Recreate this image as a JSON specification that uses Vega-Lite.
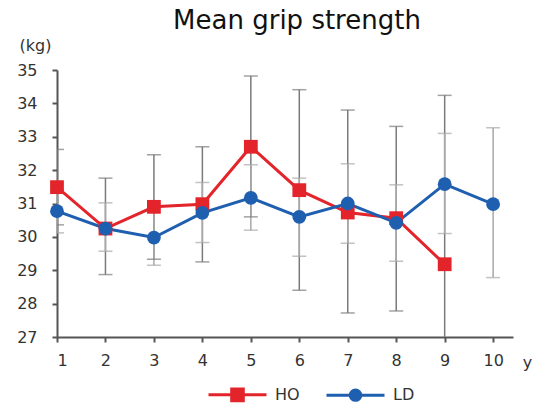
{
  "$schema": "https://vega.github.io/schema/vega-lite/v6.json",
  "autosize": "none",
  "width": 456,
  "height": 267,
  "padding": {"left": 57, "top": 70, "right": 34, "bottom": 67},
  "background": "white",
  "config": {
    "view": {"stroke": null},
    "font": "DejaVu Sans",
    "axis": {"labelFont": "DejaVu Sans", "titleFont": "DejaVu Sans", "labelColor": "#333", "titleColor": "#333", "grid": false, "domainColor": "#555", "tickColor": "#555", "domainWidth": 2, "tickWidth": 2, "labelOverlap": false}
  },
  "title": {"text": "Mean grip strength", "fontSize": 26, "fontWeight": "normal", "font": "DejaVu Sans", "color": "#111", "anchor": "middle", "frame": "group", "offset": 3, "dx": 12},
  "data": {"values": [
    {"x": 1, "group": "HO", "mean": 31.49, "lo": 30.36, "hi": 32.62},
    {"x": 2, "group": "HO", "mean": 30.25, "lo": 28.87, "hi": 31.76},
    {"x": 3, "group": "HO", "mean": 30.9, "lo": 29.33, "hi": 32.46},
    {"x": 4, "group": "HO", "mean": 30.98, "lo": 29.25, "hi": 32.7},
    {"x": 5, "group": "HO", "mean": 32.7, "lo": 30.6, "hi": 34.82},
    {"x": 6, "group": "HO", "mean": 31.4, "lo": 28.4, "hi": 34.41},
    {"x": 7, "group": "HO", "mean": 30.73, "lo": 27.72, "hi": 33.8},
    {"x": 8, "group": "HO", "mean": 30.56, "lo": 27.78, "hi": 33.31},
    {"x": 9, "group": "HO", "mean": 29.18, "lo": 24.1, "hi": 34.24},
    {"x": 1, "group": "LD", "mean": 30.77, "lo": 30.12, "hi": 31.42},
    {"x": 2, "group": "LD", "mean": 30.25, "lo": 29.57, "hi": 31.02},
    {"x": 3, "group": "LD", "mean": 29.98, "lo": 29.15, "hi": 30.85},
    {"x": 4, "group": "LD", "mean": 30.72, "lo": 29.83, "hi": 31.63},
    {"x": 5, "group": "LD", "mean": 31.17, "lo": 30.2, "hi": 32.16},
    {"x": 6, "group": "LD", "mean": 30.6, "lo": 29.42, "hi": 31.76},
    {"x": 7, "group": "LD", "mean": 31.0, "lo": 29.81, "hi": 32.19},
    {"x": 8, "group": "LD", "mean": 30.42, "lo": 29.27, "hi": 31.56},
    {"x": 9, "group": "LD", "mean": 31.58, "lo": 30.1, "hi": 33.1},
    {"x": 10, "group": "LD", "mean": 30.98, "lo": 28.78, "hi": 33.27}
  ]},
  "encoding": {
    "x": {"field": "x", "type": "quantitative", "scale": {"domain": [1, 10.41], "nice": false, "zero": false},
      "axis": {"values": [1,2,3,4,5,6,7,8,9,10], "labelFontSize": 16, "tickSize": 5, "labelPadding": 10, "title": "y", "titleFontSize": 16, "titleFontWeight": "normal", "titleX": 470, "titleY": 25, "titleBaseline": "middle", "titleAlign": "center"}},
    "xOffset": {"field": "group", "type": "nominal", "scale": {"domain": ["HO", "LD"], "range": [0, 5]}}
  },
  "layer": [
    {
      "mark": {"type": "rule", "clip": true, "strokeWidth": 1.5},
      "encoding": {
        "y": {"field": "lo", "type": "quantitative", "scale": {"domain": [27, 35], "nice": false, "zero": false},
          "axis": {"values": [27,28,29,30,31,32,33,34,35], "labelFontSize": 16, "tickSize": 5, "labelPadding": 15, "title": "(kg)", "titleFontSize": 16, "titleFontWeight": "normal", "titleAngle": 0, "titleX": -22, "titleY": -25, "titleAlign": "center", "titleBaseline": "middle"}},
        "y2": {"field": "hi"},
        "stroke": {"field": "group", "type": "nominal", "scale": {"domain": ["HO", "LD"], "range": ["#7a7a7a", "#a8a8a8"]}, "legend": null}
      }
    },
    {
      "mark": {"type": "tick", "orient": "horizontal", "clip": true, "thickness": 1.5, "size": 14},
      "encoding": {
        "y": {"field": "lo", "type": "quantitative", "axis": {"values": [27,28,29,30,31,32,33,34,35], "labelFontSize": 16, "tickSize": 5, "labelPadding": 15, "title": "(kg)", "titleFontSize": 16, "titleFontWeight": "normal", "titleAngle": 0, "titleX": -22, "titleY": -25, "titleAlign": "center", "titleBaseline": "middle"}},
        "color": {"field": "group", "type": "nominal", "scale": {"domain": ["HO", "LD"], "range": ["#7a7a7a", "#a8a8a8"]}, "legend": null}
      }
    },
    {
      "mark": {"type": "tick", "orient": "horizontal", "clip": true, "thickness": 1.5, "size": 14},
      "encoding": {
        "y": {"field": "hi", "type": "quantitative", "axis": {"values": [27,28,29,30,31,32,33,34,35], "labelFontSize": 16, "tickSize": 5, "labelPadding": 15, "title": "(kg)", "titleFontSize": 16, "titleFontWeight": "normal", "titleAngle": 0, "titleX": -22, "titleY": -25, "titleAlign": "center", "titleBaseline": "middle"}},
        "color": {"field": "group", "type": "nominal", "scale": {"domain": ["HO", "LD"], "range": ["#7a7a7a", "#a8a8a8"]}, "legend": null}
      }
    },
    {
      "mark": {"type": "line", "strokeWidth": 3},
      "encoding": {
        "y": {"field": "mean", "type": "quantitative", "axis": {"values": [27,28,29,30,31,32,33,34,35], "labelFontSize": 16, "tickSize": 5, "labelPadding": 15, "title": "(kg)", "titleFontSize": 16, "titleFontWeight": "normal", "titleAngle": 0, "titleX": -22, "titleY": -25, "titleAlign": "center", "titleBaseline": "middle"}},
        "stroke": {"field": "group", "type": "nominal", "scale": {"domain": ["HO", "LD"], "range": ["#e3242b", "#1f5fb0"]},
          "legend": {"orient": "none", "legendX": 150, "legendY": 294, "direction": "horizontal", "title": null, "labelFontSize": 16, "labelColor": "#333", "labelFont": "DejaVu Sans", "symbolSize": 3364, "symbolStrokeWidth": 3, "labelOffset": 7, "columnPadding": 20,
            "encode": {"symbols": {"update": {"shape": {"signal": "datum.value === 'HO' ? 'M-1,0H1M-0.2,-0.2H0.2V0.2H-0.2Z' : 'M-1,0H1M0.18,0A0.18,0.18,0,1,1,-0.18,0A0.18,0.18,0,1,1,0.18,0Z'"}, "fill": {"signal": "datum.value === 'HO' ? '#e3242b' : '#1f5fb0'"}, "fillOpacity": {"value": 1}}}}}}
      }
    },
    {
      "mark": {"type": "point", "filled": true, "opacity": 1},
      "encoding": {
        "y": {"field": "mean", "type": "quantitative", "axis": {"values": [27,28,29,30,31,32,33,34,35], "labelFontSize": 16, "tickSize": 5, "labelPadding": 15, "title": "(kg)", "titleFontSize": 16, "titleFontWeight": "normal", "titleAngle": 0, "titleX": -22, "titleY": -25, "titleAlign": "center", "titleBaseline": "middle"}},
        "color": {"field": "group", "type": "nominal", "scale": {"domain": ["HO", "LD"], "range": ["#e3242b", "#1f5fb0"]}, "legend": null},
        "shape": {"field": "group", "type": "nominal", "scale": {"domain": ["HO", "LD"], "range": ["square", "circle"]}, "legend": null},
        "size": {"value": 190}
      }
    }
  ],
  "resolve": {"scale": {"color": "independent", "stroke": "independent"}}
}
